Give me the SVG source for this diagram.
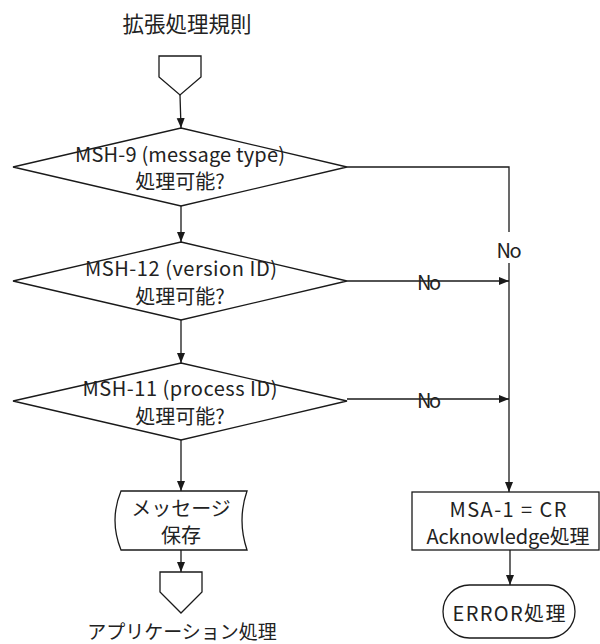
<svg xmlns="http://www.w3.org/2000/svg" width="600" height="644" viewBox="0 0 600 644">
<style>
.s{fill:#fff;stroke:#1a1a1a;stroke-width:1.3}
.c{fill:none;stroke:#1a1a1a;stroke-width:1.3}
.t{font-family:"Noto Sans CJK JP","Liberation Sans",sans-serif;font-size:20px;fill:#222;text-anchor:middle;dominant-baseline:central}
.ti{font-size:21.5px}
.b{font-size:19px}
</style>
<defs>
<marker id="a" viewBox="0 0 10 10" refX="10" refY="5" markerWidth="10" markerHeight="10" markerUnits="userSpaceOnUse" orient="auto">
<path d="M0,1 L10,5 L0,9 Z" fill="#1a1a1a"/>
</marker>
</defs>
<rect width="600" height="644" fill="#fff"/>
<text class="t ti" x="187" y="22">拡張処理規則</text>
<g id="start">
<path class="s" d="M159,56 L201,56 L201,77 L180,95 L159,77 Z"/>
</g>
<g id="d1">
<path class="s" d="M181,128 L347,167 L181,206 L13,167 Z"/>
<text class="t" x="180" y="153" textLength="210">MSH-9 (message type)</text>
<text class="t" x="180" y="180">処理可能?</text>
</g>
<g id="d2">
<path class="s" d="M181,242 L347,281 L181,320 L13,281 Z"/>
<text class="t" x="181" y="267" textLength="192">MSH-12 (version ID)</text>
<text class="t" x="180" y="295">処理可能?</text>
</g>
<g id="d3">
<path class="s" d="M181,363 L347,401 L181,440 L13,401 Z"/>
<text class="t" x="180" y="387" textLength="195">MSH-11 (process ID)</text>
<text class="t" x="180" y="415">処理可能?</text>
</g>
<g id="store">
<path class="s" d="M121,491 L247,491 Q237,520 247,550 L121,550 Q109,520 121,491 Z"/>
<text class="t" x="181" y="507">メッセージ</text>
<text class="t" x="181" y="534">保存</text>
</g>
<g id="end">
<path class="s" d="M160,572 L202,572 L202,592 L181,613 L160,592 Z"/>
<text class="t b" x="182" y="630">アプリケーション処理</text>
</g>
<g id="ack">
<rect class="s" x="412" y="492" width="187" height="58"/>
<text class="t" x="508" y="508" textLength="117">MSA-1 = CR</text>
<text class="t" x="508" y="535" textLength="163">Acknowledge処理</text>
</g>
<g id="err">
<rect class="s" x="443" y="585" width="132" height="53" rx="26.5" ry="26.5"/>
<text class="t" x="509" y="612" textLength="113">ERROR処理</text>
</g>
<g id="connectors">
<path class="c" d="M180,95 L181,128" marker-end="url(#a)"/>
<path class="c" d="M181,206 L181,242" marker-end="url(#a)"/>
<path class="c" d="M181,320 L181,363" marker-end="url(#a)"/>
<path class="c" d="M181,440 L181,491" marker-end="url(#a)"/>
<path class="c" d="M181,550 L181,572" marker-end="url(#a)"/>
<path class="c" d="M347,167 L509,167 L509,232"/>
<path class="c" d="M509,263 L509,492" marker-end="url(#a)"/>
<path class="c" d="M347,281 L509,281" marker-end="url(#a)"/>
<path class="c" d="M347,399 L509,399" marker-end="url(#a)"/>
<path class="c" d="M510,550 L510,585" marker-end="url(#a)"/>
<text class="t" x="509" y="249" textLength="25">No</text>
<text class="t" x="429" y="281" textLength="24">No</text>
<text class="t" x="429" y="399" textLength="24">No</text>
</g>
</svg>
